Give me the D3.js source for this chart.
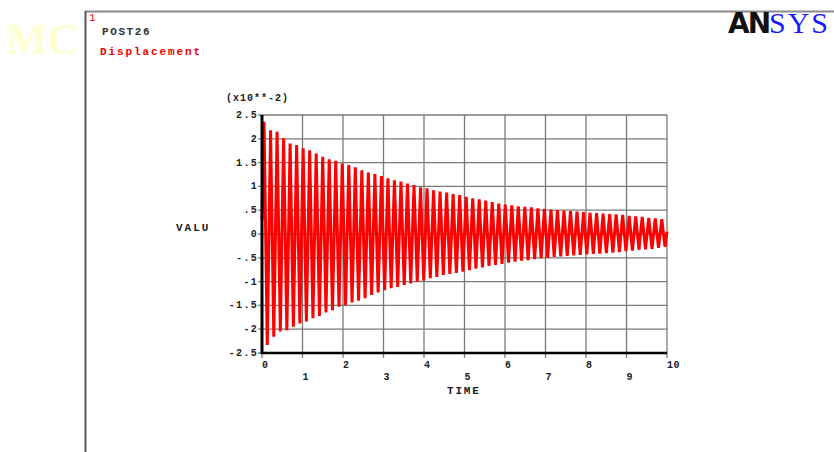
<!DOCTYPE html>
<html>
<head>
<meta charset="utf-8">
<script src="https://cdn.jsdelivr.net/npm/d3@7"></script>
<style>
  body { margin: 0; background: #fff; }
  text { font-family: "Liberation Mono", "DejaVu Sans Mono", monospace; font-weight: bold; }
</style>
</head>
<body>
<div id="chart"></div>
<script>
// displacement extremes (x10**-2)
var t0 = 0.05, period = 0.161;
var peaks = [2.36, 2.18, 2.15, 2.01, 1.90, 1.87, 1.80, 1.76, 1.69, 1.62, 1.57, 1.54, 1.48, 1.45, 1.40, 1.34,
             1.29, 1.26, 1.22, 1.17, 1.13, 1.10, 1.06, 1.03, 0.98, 0.96, 0.92, 0.89, 0.87, 0.84, 0.82,
             0.78, 0.75, 0.73, 0.70, 0.67, 0.64, 0.62, 0.60, 0.58, 0.57, 0.56, 0.54, 0.53, 0.51, 0.50,
             0.49, 0.48, 0.47, 0.46, 0.45, 0.44, 0.43, 0.42, 0.41, 0.40, 0.38, 0.37, 0.36, 0.34, 0.33, 0.31];
var troughs = [-2.33, -2.16, -2.05, -2.02, -1.95, -1.88, -1.84, -1.77, -1.72, -1.65, -1.60, -1.53, -1.49, -1.44, -1.40,
               -1.35, -1.28, -1.23, -1.18, -1.14, -1.11, -1.07, -1.04, -1.00, -0.98, -0.93, -0.90, -0.86, -0.84, -0.82,
               -0.79, -0.76, -0.73, -0.70, -0.67, -0.65, -0.63, -0.60, -0.58, -0.56, -0.55, -0.53, -0.51, -0.50, -0.48, -0.47,
               -0.46, -0.45, -0.44, -0.43, -0.42, -0.41, -0.40, -0.39, -0.38, -0.36, -0.35, -0.33, -0.32, -0.31, -0.29, -0.27];
var yTicks = [2.5, 2, 1.5, 1, 0.5, 0, -0.5, -1, -1.5, -2, -2.5];
var yLabels = ["2.5", "2", "1.5", "1", ".5", "0", "-.5", "-1", "-1.5", "-2", "-2.5"];
var xTicks = [0, 1, 2, 3, 4, 5, 6, 7, 8, 9, 10];

var w = 834, h = 452;
var svg = d3.select("#chart").append("svg")
  .attr("width", w)
  .attr("height", h)

// faint watermark
svg.append("text").attr("x", 6).attr("y", 54)
  .style("font-family", "Liberation Serif")
  .style("font-size", "44px").attr("fill", "#ffffd4").text("MC");

// window frame
svg.append("line").attr("x1", 85).attr("x2", w).attr("y1", 11.5).attr("y2", 11.5)
  .attr("stroke", "#8a8a8a").attr("stroke-width", 2);
svg.append("line").attr("x1", 85.5).attr("x2", 85.5).attr("y1", 11).attr("y2", h)
  .attr("stroke", "#555").attr("stroke-width", 2);

svg.append("text").attr("x", 89).attr("y", 21).attr("fill", "#e00000")
  .style("font-size", "11px").style("font-weight", "normal").text("1");
svg.append("text").attr("x", 102).attr("y", 35).attr("fill", "#333")
  .style("font-size", "11px").style("letter-spacing", "1.6px").text("POST26");
svg.append("text").attr("x", 100).attr("y", 55).attr("fill", "#f00000")
  .style("font-size", "11px").style("letter-spacing", "1.9px").text("Displacement");

// logo
svg.append("text").attr("x", 728).attr("y", 33)
  .style("font-family", "DejaVu Sans")
  .style("font-size", "28px").style("letter-spacing", "-2px").attr("fill", "#111").text("AN");
svg.append("text").attr("x", 769).attr("y", 33)
  .style("font-family", "Liberation Serif").style("font-weight", "normal")
  .style("font-size", "30px").style("letter-spacing", "2px").attr("fill", "#1a1aff").text("SYS");

var x = d3.scaleLinear().domain([0, 10]).range([262, 667]);
var y = d3.scaleLinear().domain([-2.5, 2.5]).range([353, 115]);

// grid
svg.selectAll(".hg").data(yTicks).enter().append("line")
  .attr("x1", x(0) - 4).attr("x2", x(10))
  .attr("y1", function(d){ return y(d) }).attr("y2", function(d){ return y(d) })
  .attr("stroke", "#7a7a7a").attr("stroke-width", 1.3);
svg.selectAll(".vg").data(xTicks).enter().append("line")
  .attr("x1", function(d){ return x(d) }).attr("x2", function(d){ return x(d) })
  .attr("y1", y(2.5)).attr("y2", y(-2.5) + 5)
  .attr("stroke", "#7a7a7a").attr("stroke-width", 1.3);

// signal
var pts = [[0, 0.3]];
peaks.forEach(function(p, i){
  pts.push([t0 + i * period, p]);
  pts.push([t0 + period / 2 + i * period, troughs[i]]);
});
pts.push([10, 0.05]);

var line = d3.line()
  .x(function(d){ return x(d[0]) })
  .y(function(d){ return y(d[1]) });

svg.append("path").datum(pts)
  .attr("d", line)
  .attr("fill", "none")
  .attr("stroke", "#ff0000")
  .attr("stroke-width", 3)
  .attr("stroke-linejoin", "bevel");

// axes
svg.append("line").attr("x1", x(0)).attr("x2", x(0)).attr("y1", y(2.5)).attr("y2", y(-2.5) + 1)
  .attr("stroke", "#000").attr("stroke-width", 3);
svg.append("line").attr("x1", x(0) - 1).attr("x2", x(10)).attr("y1", y(-2.5)).attr("y2", y(-2.5))
  .attr("stroke", "#000").attr("stroke-width", 2.5);

// labels
svg.selectAll(".yl").data(yTicks).enter().append("text")
  .attr("x", 258).attr("y", function(d){ return y(d) + 3 })
  .attr("text-anchor", "end")
  .style("font-size", "10px").style("letter-spacing", "1.3px")
  .attr("fill", "#222")
  .text(function(d, i){ return yLabels[i] });

svg.selectAll(".xl").data(xTicks).enter().append("text")
  .attr("x", function(d){ return x(d) })
  .attr("y", function(d){ return d % 2 == 0 ? 368 : 380 })
  .style("font-size", "10px").style("letter-spacing", "0.5px")
  .attr("fill", "#222")
  .text(function(d){ return d });

svg.append("text").attr("x", 226).attr("y", 101)
  .style("font-size", "10px").style("letter-spacing", "1px").attr("fill", "#222").text("(x10**-2)");
svg.append("text").attr("x", 176).attr("y", 231)
  .style("font-size", "11px").style("letter-spacing", "2px").attr("fill", "#222").text("VALU");
svg.append("text").attr("x", 447).attr("y", 394)
  .style("font-size", "11px").style("letter-spacing", "1.8px").attr("fill", "#222").text("TIME");
</script>
</body>
</html>
